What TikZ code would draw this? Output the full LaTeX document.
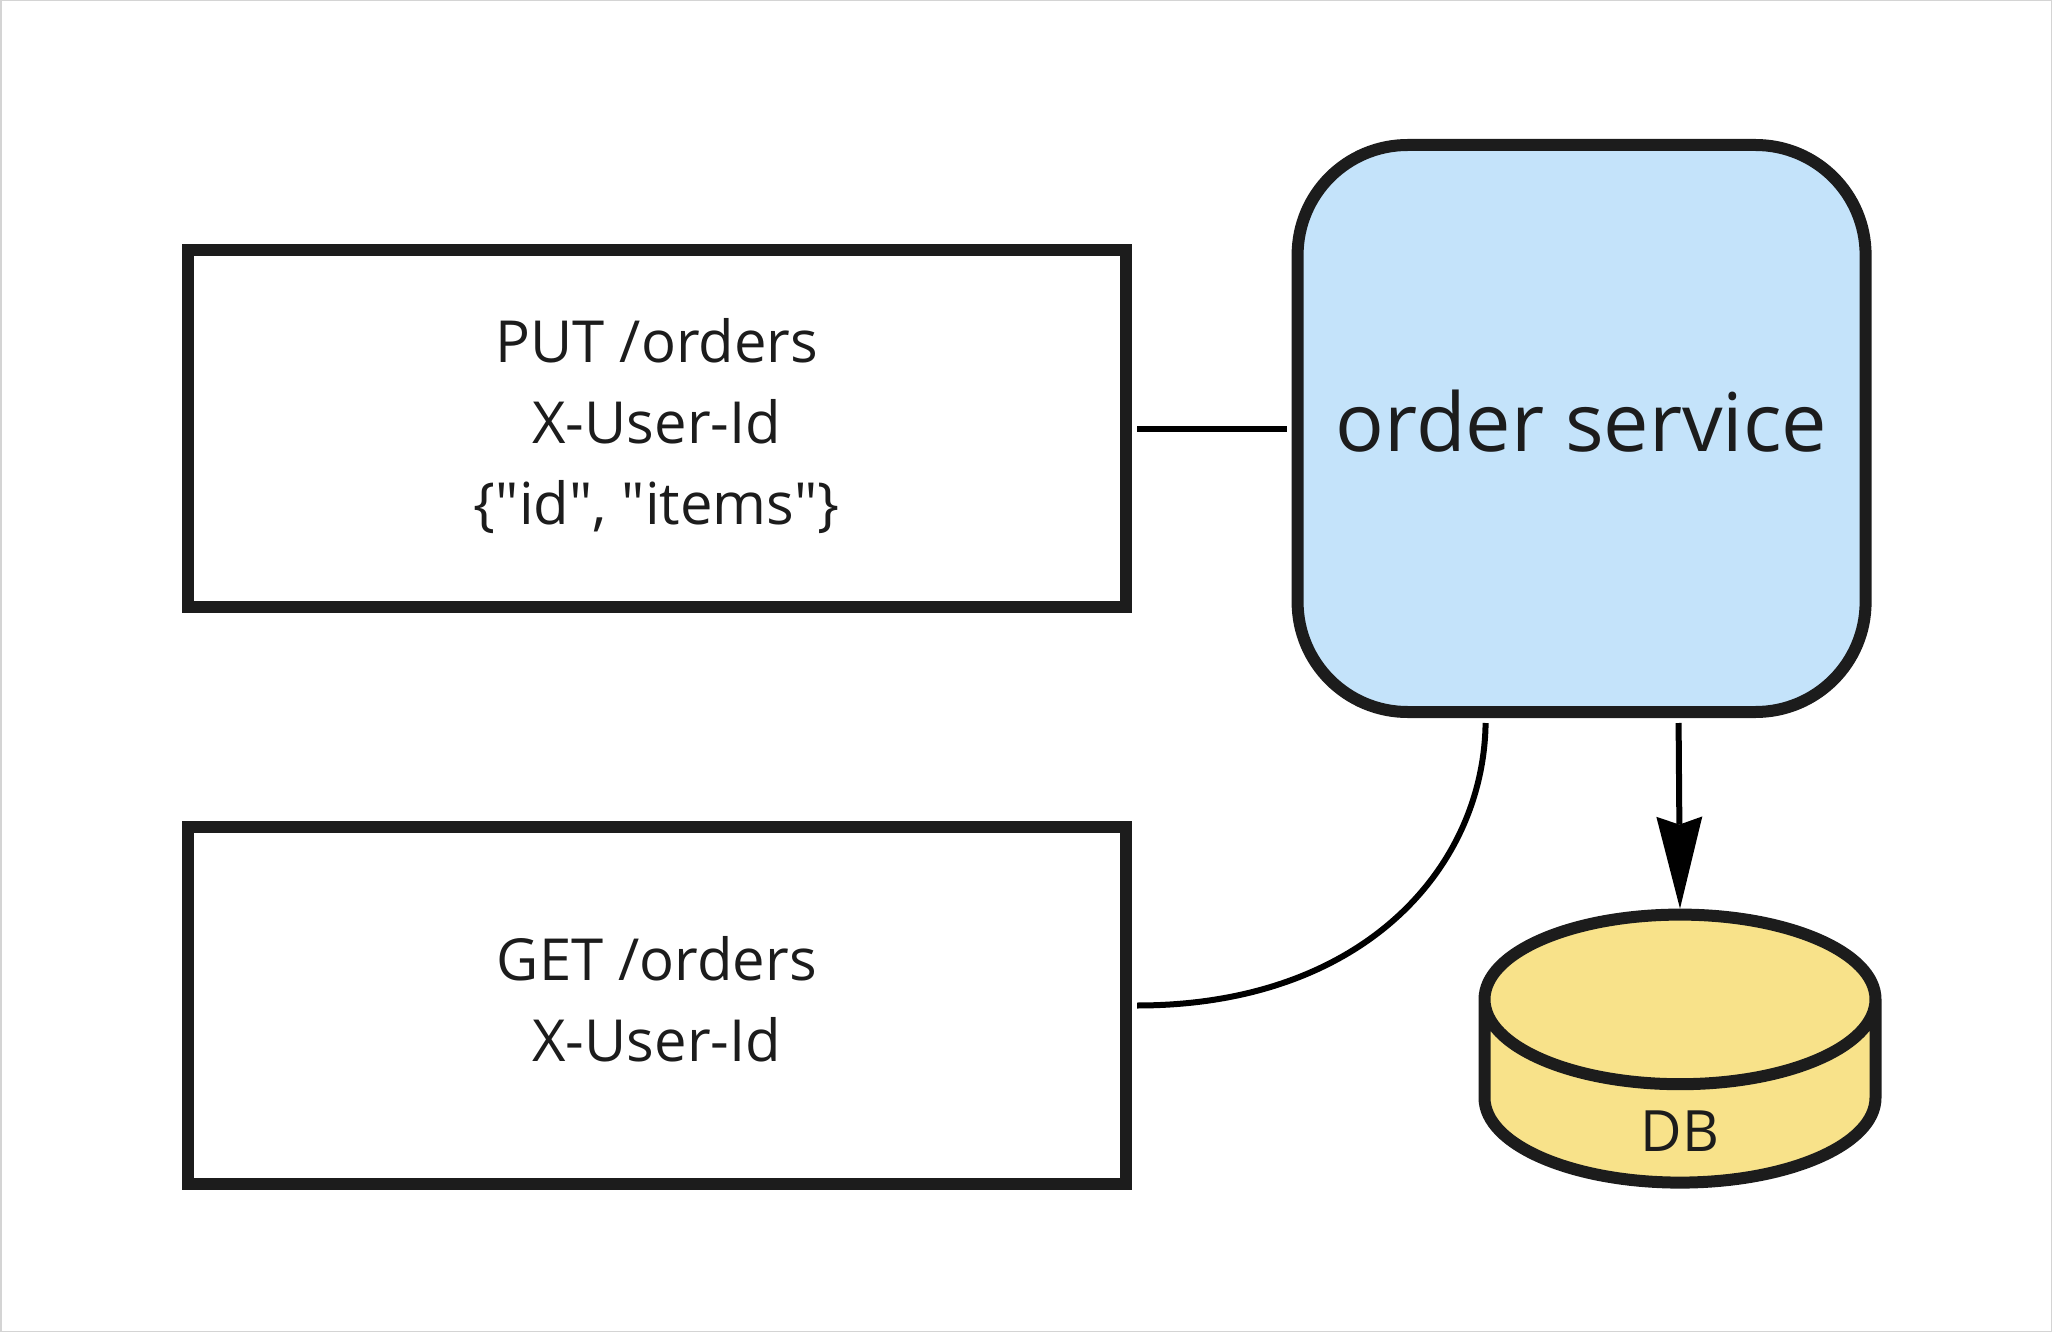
\documentclass[tikz,border=0pt]{standalone}
\usepackage{fontspec}
\newfontfamily\opensans{Open Sans}
\usetikzlibrary{positioning, arrows.meta, shapes.geometric}
\definecolor{strokeblack}{HTML}{1C1C1C}
\definecolor{serviceblue}{HTML}{C4E3FA}
\definecolor{dbyellow}{HTML}{F8E28A}
\definecolor{framegray}{HTML}{D4D4D4}
\tikzset{
    requestbox/.style={draw=strokeblack, line width=6pt, rectangle, minimum width=469.25pt, minimum height=178.5pt, align=center, text=strokeblack, font=\opensans\fontsize{29}{40.5}\selectfont},
    servicebox/.style={draw=strokeblack, fill=serviceblue, line width=6pt, rectangle, rounded corners=55pt, minimum width=284pt, minimum height=283.5pt, text=strokeblack, font=\opensans\fontsize{40.5}{48}\selectfont},
    dbcyl/.style={draw=strokeblack, line width=6pt, cylinder, inner sep=4pt, shape border rotate=90, shape aspect=10.6, cylinder uses custom fill, cylinder body fill=dbyellow, cylinder end fill=dbyellow, minimum width=195.5pt, minimum height=134pt},
    dbtext/.style={text=strokeblack, inner sep=0pt, font=\opensans\fontsize{28.5}{34}\selectfont},
    link/.style={draw=black, line width=3pt, shorten <=2.5pt, shorten >=2.5pt},
    dblink/.style={draw=black, line width=3pt, -{Stealth[length=46pt, width=23pt, inset=4pt, line width=0pt]}},
}

\begin{document}
\begin{tikzpicture}
            \path[use as bounding box] (0,0) rectangle (1026pt,-666pt);
            \draw[framegray, line width=1.5pt] (0,0) rectangle (1026pt,-666pt);

            \node[requestbox] (PUTORDERS) at (328.4pt,-214.25pt) {PUT /orders\\X-User-Id\\\{"id", "items"\}\rule[-6.6pt]{0pt}{0pt}};
            \node[requestbox, below of=PUTORDERS, node distance=288.5pt] (GETORDERS) {GET /orders\\X-User-Id\rule[-7pt]{0pt}{0pt}};
            \node[servicebox, right of=PUTORDERS, node distance=462.4pt] (SERVICE) {order service\rule[-8pt]{0pt}{0pt}};
            \node[dbcyl] (DB) at (840pt,-553pt) {};
            \node[dbtext, above=18.6pt of DB.south] (DBTEXT) {DB};

            \coordinate[below=2.5pt of SERVICE.south, xshift=-48pt] (READOUT);
            \coordinate[below=2.5pt of SERVICE.south, xshift=48.5pt] (WRITEOUT);

            \path[link] (PUTORDERS) -- (SERVICE);
            \draw[line width=3pt] (READOUT) .. controls +(-1pt,-72.5pt) and ([xshift=115.5pt]GETORDERS.east) .. ([xshift=2.5pt]GETORDERS.east);
            \draw[dblink] (WRITEOUT) -- (DB.north);
        \end{tikzpicture}
\end{document}
